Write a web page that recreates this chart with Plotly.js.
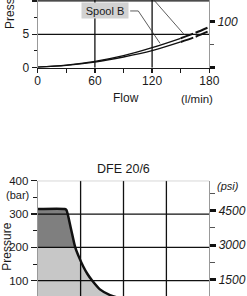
<!DOCTYPE html>
<html><head><meta charset="utf-8">
<script src="https://cdn.plot.ly/plotly-3.0.1.min.js"></script>
<style>html,body{margin:0;padding:0;background:#fff;overflow:hidden}</style>
</head><body>
<div id="chart" style="width:247px;height:296px"></div>
<script>
// ---- Top chart: pressure drop vs flow ----
const flowA = [0, 30, 60, 90, 120, 150];
const presA = [0.1, 0.4, 0.95, 1.8, 3.0, 4.4];
const flowAext = [150, 165, 180];
const presAext = [4.4, 5.2, 6.1];
const flowB = [0, 30, 60, 90, 120, 150];
const presB = [0.1, 0.35, 0.85, 1.6, 2.55, 3.85];
const flowBext = [150, 165, 180];
const presBext = [3.85, 4.6, 5.5];
const topXTicks = [0, 60, 120, 180];
const topYTicks = [0, 5, 10];
const topPsiTicks = [0, 100];
const topPsiLabels = ['', '100'];

// ---- Bottom chart: DFE 20/6 operating limit ----
const flowDFE = [0, 12.6, 13.4, 15.5, 17.5, 19.5, 21.3, 23.2, 25.2, 29, 33.7, 40, 48];
const presDFE = [315, 315, 312, 256, 200, 167, 142, 120, 102, 74, 57, 45, 38];
const botYTicks = [100, 200, 300, 400];
const botPsiTicks = [1500, 3000, 4500];
const botPsiLabels = ['1500', '3000', '4500'];
const splitBar = 200;

const BAR2PSI = 14.5038;
const W = 247, H = 296;
const px = v => v / W;
const py = v => 1 - v / H;
const xd = [px(37.7), px(209.3)];
const topR = [0, 10.13];
const botR = [54.1, 400];

const ink = '#1a1a1a';
const fnt = {family: 'Liberation Sans, Arial, sans-serif', size: 12, color: ink};

const lineT = (x, y, dash, w) => ({x: x, y: y, xaxis: 'x', yaxis: 'y', mode: 'lines',
  line: {color: '#111', width: w, dash: dash, shape: 'spline'}, hoverinfo: 'skip', showlegend: false});

const lightY = presDFE.map(v => Math.min(v, splitBar));

const traces = [
  lineT(flowA, presA, 'solid', 1.3),
  lineT(flowAext, presAext, '13px,3px', 2),
  lineT(flowB, presB, 'solid', 1.3),
  lineT(flowBext, presBext, '13px,3px', 2),
  {x: flowDFE, y: lightY, xaxis: 'x2', yaxis: 'y2', mode: 'lines', fill: 'tozeroy',
   fillcolor: 'rgba(0,0,0,0.22)', line: {width: 0, color: 'rgba(0,0,0,0)'}, hoverinfo: 'skip', showlegend: false},
  {x: flowDFE, y: presDFE, xaxis: 'x2', yaxis: 'y2', mode: 'lines', fill: 'tonexty',
   fillcolor: 'rgba(0,0,0,0.5)', line: {width: 2.5, color: '#111', shape: 'spline', smoothing: 0.6},
   hoverinfo: 'skip', showlegend: false},
  // psi companion axes (no marks of their own)
  {x: [], y: [], xaxis: 'x', yaxis: 'y3', mode: 'lines', hoverinfo: 'skip', showlegend: false},
  {x: [], y: [], xaxis: 'x2', yaxis: 'y4', mode: 'lines', hoverinfo: 'skip', showlegend: false}
];

const gridShapes = [];
const gl = {color: '#111', width: 1.3};
[5, 10].forEach(v => gridShapes.push({type: 'line', xref: 'x', yref: 'y', x0: 0, x1: 180, y0: v, y1: v, line: gl, layer: 'below'}));
[60, 120].forEach(v => gridShapes.push({type: 'line', xref: 'x', yref: 'y', x0: v, x1: v, y0: 0, y1: topR[1], line: gl, layer: 'below'}));
[100, 200, 300].forEach(v => gridShapes.push({type: 'line', xref: 'x2', yref: 'y2', x0: 0, x1: 80, y0: v, y1: v, line: gl, layer: 'below'}));
[20, 40, 60].forEach(v => gridShapes.push({type: 'line', xref: 'x2', yref: 'y2', x0: v, x1: v, y0: 0, y1: 400, line: gl, layer: 'below'}));
gridShapes.push({type: 'line', xref: 'x2', yref: 'y2', x0: 0, x1: 80, y0: 400, y1: 400, line: {color: '#999', width: 1}, layer: 'below'});
// leader lines
gridShapes.push({type: 'path', xref: 'x', yref: 'y', path: 'M 97,8.49 L 105.5,8.49 L 128.3,3.65', line: {color: '#333', width: 0.8}});
gridShapes.push({type: 'line', xref: 'x', yref: 'y', x0: 119, y0: 10.6, x1: 154, y1: 4.9, line: {color: '#333', width: 0.8}});

const ann = (x, y, text, extra) => Object.assign({xref: 'paper', yref: 'paper', x: px(x), y: py(y), text: text,
  showarrow: false, xanchor: 'center', yanchor: 'middle', font: {size: 12, color: ink}}, extra || {});

const layout = {
  width: W, height: H, margin: {l: 0, r: 0, t: 0, b: 0},
  paper_bgcolor: '#fff', plot_bgcolor: '#fff', showlegend: false, font: fnt,
  xaxis: {domain: xd, range: [0, 180], anchor: 'y', tickvals: topXTicks, showgrid: false, zeroline: false,
    showline: true, linecolor: ink, linewidth: 1.5, ticks: 'outside', ticklen: 4, tickwidth: 1.3, tickcolor: ink,
    ticklabelstandoff: -3,
    tickfont: {size: 12, color: ink}, minor: {dtick: 30, ticks: 'outside', ticklen: 4, tickwidth: 1.2, tickcolor: ink, showgrid: false}},
  yaxis: {domain: [py(67.7), 1], range: topR, anchor: 'x', tickvals: topYTicks, showgrid: false, zeroline: false,
    showline: true, linecolor: '#999', linewidth: 1, ticks: 'outside', ticklen: 5, tickwidth: 1.5, tickcolor: ink,
    tickfont: {size: 12, color: ink}, minor: {dtick: 2.5, ticks: 'outside', ticklen: 3, tickwidth: 1, tickcolor: ink, showgrid: false}},
  yaxis3: {overlaying: 'y', side: 'right', anchor: 'x', range: [topR[0] * BAR2PSI, topR[1] * BAR2PSI],
    tickvals: topPsiTicks, ticktext: topPsiLabels, showgrid: false, zeroline: false,
    showline: true, linecolor: '#999', linewidth: 1, ticks: 'outside', ticklen: 5, tickwidth: 3, tickcolor: '#111',
    tickfont: {size: 12, color: ink, style: 'italic'}, minor: {tickvals: [50], ticks: 'outside', ticklen: 4, tickwidth: 1, tickcolor: '#555', showgrid: false}},
  xaxis2: {domain: xd, range: [0, 80], anchor: 'y2', showgrid: false, zeroline: false, showline: false,
    showticklabels: false, ticks: ''},
  yaxis2: {domain: [0, py(180.7)], range: botR, anchor: 'x2', tickvals: botYTicks, showgrid: false, zeroline: false,
    showline: true, linecolor: '#999', linewidth: 1, ticks: 'outside', ticklen: 6, tickwidth: 1.5, tickcolor: ink,
    tickfont: {size: 11.5, color: ink}, minor: {tickvals: [150, 250, 350], ticks: 'outside', ticklen: 4, tickwidth: 1, tickcolor: ink, showgrid: false}},
  yaxis4: {overlaying: 'y2', side: 'right', anchor: 'x2', range: [botR[0] * BAR2PSI, botR[1] * BAR2PSI],
    tickvals: botPsiTicks, ticktext: botPsiLabels, showgrid: false, zeroline: false,
    showline: true, linecolor: '#999', linewidth: 1, ticks: 'outside', ticklen: 6, tickwidth: 3, tickcolor: '#111',
    tickfont: {size: 12, color: ink, style: 'italic'}, minor: {tickvals: [2250, 3750, 5250], ticks: 'outside', ticklen: 5, tickwidth: 1, tickcolor: '#555', showgrid: false}},
  shapes: gridShapes,
  annotations: [
    {xref: 'x', yref: 'y', x: 70.6, y: 8.52, text: 'Spool B', showarrow: false, bgcolor: '#d2d2d2',
     xanchor: 'center', yanchor: 'middle', width: 46, height: 15, borderpad: 0, font: {size: 11, color: ink}},
    ann(126, 98, 'Flow'),
    ann(197, 99, '(l/min)', {font: {size: 11.5, color: ink}}),
    ann(10, 4.9, 'Pressure', {textangle: -90}),
    ann(123, 169, 'DFE 20/6', {font: {size: 12.5, color: ink}}),
    ann(17, 194.7, '(bar)', {font: {size: 11, color: ink}}),
    ann(227.5, 185.5, '(psi)', {font: {size: 11, color: ink, style: 'italic'}}),
    ann(7, 246.7, 'Pressure', {textangle: -90})
  ]
};

Plotly.newPlot('chart', traces, layout, {staticPlot: true, displayModeBar: false});
</script>
</body></html>
